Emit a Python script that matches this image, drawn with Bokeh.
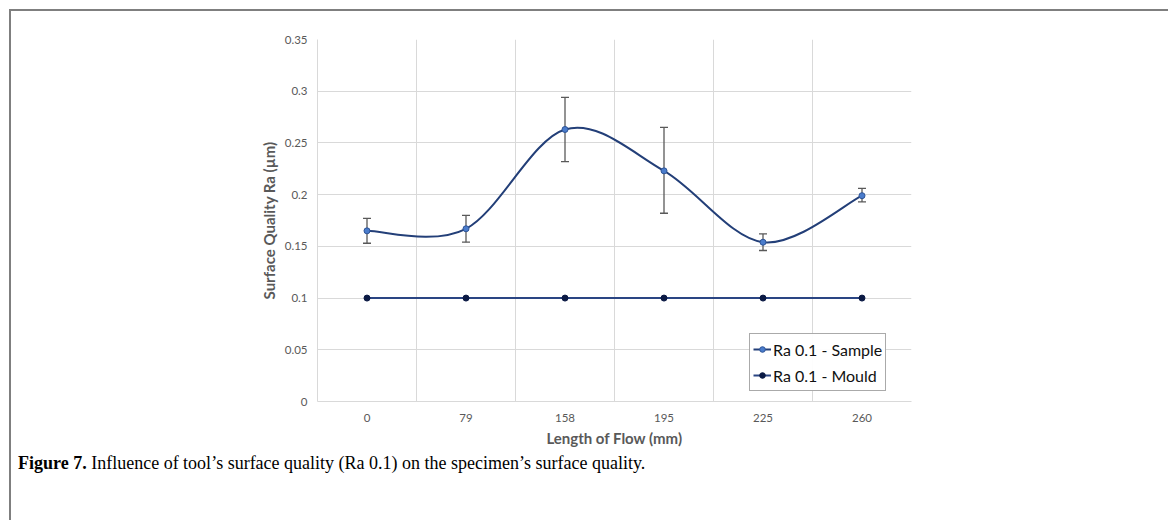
from bokeh.plotting import figure
from bokeh.layouts import column
from bokeh.models import (Range1d, FixedTicker, Whisker, TeeHead, ColumnDataSource,
                          Legend, LegendItem, Div)
from bokeh.embed import file_html
from bokeh.resources import INLINE

# ---- data ----
categories = ["0", "79", "158", "195", "225", "260"]
sample = [0.165, 0.167, 0.263, 0.223, 0.154, 0.199]
sample_upper = [0.177, 0.180, 0.294, 0.265, 0.162, 0.206]
sample_lower = [0.153, 0.154, 0.232, 0.182, 0.146, 0.193]
mould = [0.1, 0.1, 0.1, 0.1, 0.1, 0.1]
y_ticks = [0, 0.05, 0.1, 0.15, 0.2, 0.25, 0.3, 0.35]
y_tick_labels = ["0", "0.05", "0.1", "0.15", "0.2", "0.25", "0.3", "0.35"]
caption_bold = "Figure 7."
caption_text = "Influence of tool\u2019s surface quality (Ra 0.1) on the specimen\u2019s surface quality."

OFF = 11  # page offset of the figure (margin 9 + border 2)
FRAME_L, FRAME_R, FRAME_T, FRAME_B = 317 - OFF, 911 - OFF, 39 - OFF, 401 - OFF
W, H = 1154, 439

xs = [i + 0.5 for i in range(len(categories))]

p = figure(width=W, height=H, output_backend="svg", toolbar_location=None,
           x_range=Range1d(0, len(categories)), y_range=Range1d(0, 0.35),
           min_border_left=FRAME_L, min_border_right=W - FRAME_R,
           min_border_top=FRAME_T, min_border_bottom=H - FRAME_B)
p.outline_line_color = None
p.background_fill_color = "white"
p.border_fill_color = "white"

# grid
p.xgrid.ticker = FixedTicker(ticks=list(range(len(categories) + 1)))
p.ygrid.ticker = FixedTicker(ticks=y_ticks)
for g in (p.xgrid, p.ygrid):
    g.grid_line_color = "#d9d9d9"
    g.grid_line_width = 1

# axes
p.xaxis.ticker = FixedTicker(ticks=xs)
p.xaxis.major_label_overrides = {x: c for x, c in zip(xs, categories)}
p.yaxis.ticker = FixedTicker(ticks=y_ticks)
p.yaxis.major_label_overrides = {t: l for t, l in zip(y_ticks, y_tick_labels)}
for ax in (p.xaxis, p.yaxis):
    ax.axis_line_color = "#d9d9d9"
    ax.major_tick_line_color = None
    ax.minor_tick_line_color = None
    ax.major_tick_out = 0
    ax.major_tick_in = 0
    ax.minor_tick_out = 0
    ax.major_label_text_font = "Lato"
    ax.major_label_text_font_size = "11.5px"
    ax.major_label_text_color = "#595959"
    ax.axis_label_text_font = "Lato"
    ax.axis_label_text_font_size = "15px"
    ax.axis_label_text_font_style = "bold"
    ax.axis_label_text_color = "#595959"
p.yaxis.axis_label = "Surface Quality Ra (µm)"
p.xaxis.axis_label = "Length of Flow (mm)"
p.yaxis.major_label_standoff = 10
p.yaxis.axis_label_standoff = 4
p.xaxis.major_label_standoff = 12
p.xaxis.axis_label_standoff = 4

# error bars (under the glyphs)
src = ColumnDataSource(dict(x=xs, y=sample, upper=sample_upper, lower=sample_lower))
wh = Whisker(source=src, base="x", upper="upper", lower="lower",
             line_color="#595959", line_width=1.3, level="underlay",
             upper_head=TeeHead(size=8, line_color="#595959", line_width=1.3),
             lower_head=TeeHead(size=8, line_color="#595959", line_width=1.3))
p.add_layout(wh)

# smoothed sample line (Bezier with Catmull-Rom style control points)
n = len(xs)
px = [xs[0]] + xs + [xs[-1]]
py = [sample[0]] + sample + [sample[-1]]
bz = dict(x0=[], y0=[], x1=[], y1=[], cx0=[], cy0=[], cx1=[], cy1=[])
for i in range(n - 1):
    j = i + 1
    bz["x0"].append(px[j]); bz["y0"].append(py[j])
    bz["x1"].append(px[j + 1]); bz["y1"].append(py[j + 1])
    bz["cx0"].append(px[j] + (px[j + 1] - px[j - 1]) / 6)
    bz["cy0"].append(py[j] + (py[j + 1] - py[j - 1]) / 6)
    bz["cx1"].append(px[j + 1] - (px[j + 2] - px[j]) / 6)
    bz["cy1"].append(py[j + 1] - (py[j + 2] - py[j]) / 6)
sample_line = p.bezier(source=ColumnDataSource(bz), x0="x0", y0="y0", x1="x1", y1="y1",
                       cx0="cx0", cy0="cy0", cx1="cx1", cy1="cy1",
                       line_color="#233f78", line_width=2)
sample_pts = p.scatter(x="x", y="y", source=src, marker="circle", size=6,
                       fill_color="#4a7ccc", line_color="#2f5597", line_width=1)

mould_line = p.line(xs, mould, line_color="#2a4583", line_width=2)
mould_pts = p.scatter(xs, mould, marker="circle", size=6,
                      fill_color="#0b1a44", line_color="#0b1a44")

legend = Legend(items=[
    LegendItem(label="Ra 0.1 - Sample", renderers=[sample_line, sample_pts]),
    LegendItem(label="Ra 0.1 - Mould", renderers=[mould_line, mould_pts]),
], location=(749 - OFF - FRAME_L, FRAME_B - (391 - OFF)))
legend.label_text_font = "Lato"
legend.label_text_font_size = "16px"
legend.label_text_color = "#111111"
legend.border_line_color = "#555555"
legend.border_line_width = 1
legend.background_fill_color = "white"
legend.padding = 3
legend.margin = 0
legend.spacing = 2
legend.label_height = 24
legend.glyph_width = 18
legend.glyph_height = 14
legend.label_standoff = 2
p.add_layout(legend, "center")

caption = Div(
    text=f"<b>{caption_bold}</b> {caption_text}",
    width=W, height=60,
    styles={"font-family": "'Liberation Serif', serif", "font-size": "18px",
            "color": "#000000", "padding-left": "2px", "padding-top": "0px",
            "transform": "translateY(-4px)"},
)

layout = column(p, caption, spacing=0,
                styles={"margin-left": "9px", "margin-top": "9px",
                        "border-top": "2px solid #7f7f7f",
                        "border-left": "2px solid #7f7f7f",
                        "border-right": "2px solid #7f7f7f",
                        "background-color": "white"})

open("out.html", "w").write(file_html(layout, INLINE))
